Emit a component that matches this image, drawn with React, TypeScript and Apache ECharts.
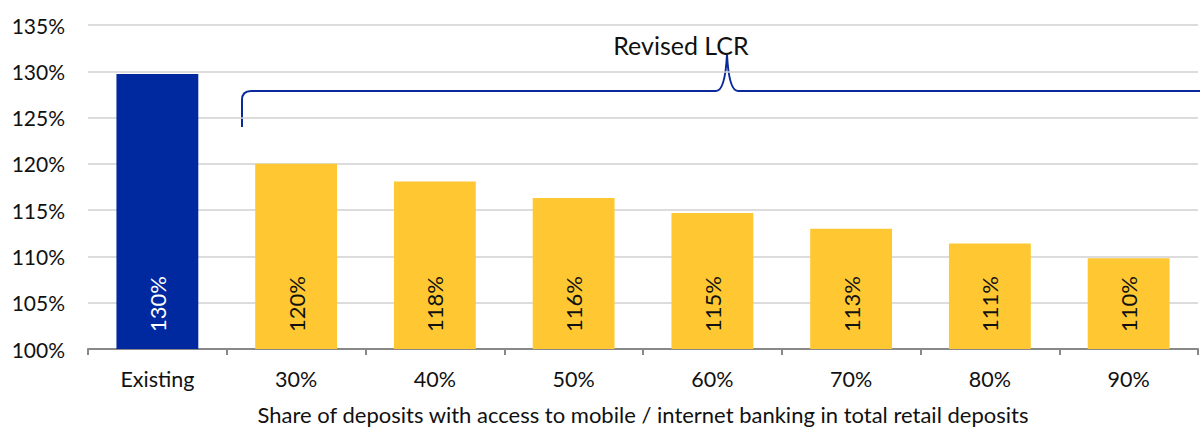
import React, { useEffect, useRef } from "react";
import * as echarts from "echarts";

const categories = ["Existing", "30%", "40%", "50%", "60%", "70%", "80%", "90%"];
const values = [129.7, 120.0, 118.1, 116.3, 114.7, 113.0, 111.4, 109.8];
const labels = ["130%", "120%", "118%", "116%", "115%", "113%", "111%", "110%"];
const barColors = ["#0029A0", "#FFC832", "#FFC832", "#FFC832", "#FFC832", "#FFC832", "#FFC832", "#FFC832"];
const labelColors = ["#FFFFFF", "#111111", "#111111", "#111111", "#111111", "#111111", "#111111", "#111111"];
const xTitle = "Share of deposits with access to mobile / internet banking in total retail deposits";
const braceLabel = "Revised LCR";

const FONT = "Lato, 'Open Sans', sans-serif";

export default function App() {
  const ref = useRef<HTMLDivElement>(null);
  useEffect(() => {
    if (!ref.current) return;
    echarts.graphic.registerShape(
      "brace",
      echarts.graphic.extendPath(
        "M 242 127 L 242 100 Q 242 91 251 91 L 716 91 Q 725 91 727 55 Q 729 91 738 91 L 1200 91",
        {}
      )
    );
    const chart = echarts.init(ref.current, undefined, { renderer: "svg" });
    chart.setOption({
      animation: false,
      textStyle: { fontFamily: FONT },
      grid: { left: 88, right: 2, top: 25, bottom: 81, containLabel: false, outerBoundsMode: "none" },
      xAxis: {
        type: "category",
        data: categories,
        axisLine: { lineStyle: { color: "#888888", width: 2 } },
        axisTick: { show: true, interval: 0, length: 6, lineStyle: { color: "#888888", width: 2 } },
        axisLabel: { color: "#111111", fontSize: 21.5, margin: 19, fontFamily: FONT },
        name: xTitle,
        nameLocation: "middle",
        nameGap: 54,
        nameTextStyle: { color: "#111111", fontSize: 22, fontFamily: FONT },
      },
      yAxis: {
        type: "value",
        min: 100,
        max: 135,
        interval: 5,
        axisLine: { show: false },
        axisTick: { show: false },
        axisLabel: { formatter: "{value}%", color: "#111111", fontSize: 21, margin: 23, fontFamily: FONT },
        splitLine: { lineStyle: { color: "#d0d0d0", width: 1.5 } },
      },
      graphic: [
        {
          type: "brace",
          shape: {},
          style: { fill: "none", stroke: "#0A2A9C", lineWidth: 2 },
          silent: true,
        },
        {
          type: "text",
          x: 681,
          y: 45,
          style: {
            text: braceLabel,
            fontSize: 25,
            fontFamily: FONT,
            fill: "#111111",
            align: "center",
            verticalAlign: "middle",
          },
        },
      ],
      series: [
        {
          type: "bar",
          barCategoryGap: "41%",
          data: values.map((v, i) => ({
            value: v,
            itemStyle: { color: barColors[i] },
            label: {
              show: true,
              position: "insideBottom",
              distance: 17,
              rotate: 90,
              align: "left",
              verticalAlign: "middle",
              formatter: labels[i],
              color: labelColors[i],
              fontSize: 22,
              fontFamily: FONT,
            },
          })),
        },
      ],
    });
    return () => chart.dispose();
  }, []);
  return (
    <div
      ref={ref}
      style={{ position: "absolute", left: 0, top: 0, width: 1200, height: 430, background: "#ffffff" }}
    />
  );
}
